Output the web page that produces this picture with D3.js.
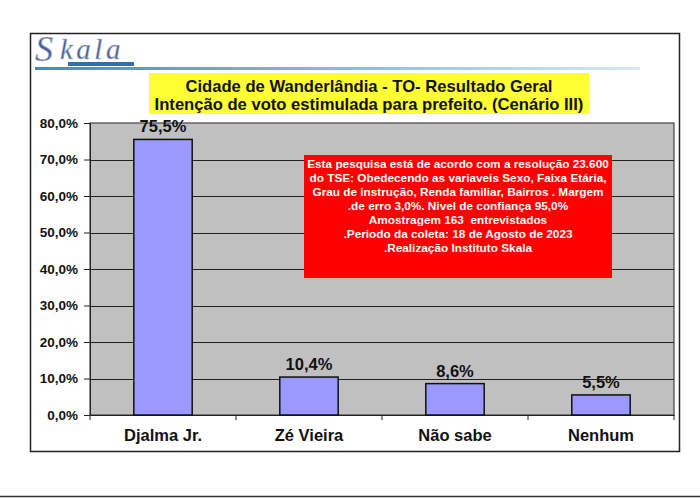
<!DOCTYPE html>
<html>
<head>
<meta charset="utf-8">
<script src="https://cdn.jsdelivr.net/npm/d3@7"></script>
<style>
html,body{margin:0;padding:0;background:#fff;}
svg{display:block;}
text{font-family:"Liberation Sans",Arial,sans-serif;}
</style>
</head>
<body>
<svg id="chart" width="700" height="498"></svg>
<script>
const categories = ["Djalma Jr.", "Zé Vieira", "Não sabe", "Nenhum"];
const values = [75.5, 10.4, 8.6, 5.5];
const yTicks = [0, 10, 20, 30, 40, 50, 60, 70, 80];
const titleLines = ["Cidade de Wanderlândia - TO- Resultado Geral", "Intenção de voto estimulada para prefeito. (Cenário III)"];
const noteLines = [
  "Esta pesquisa está de acordo com a resolução 23.600",
  "do TSE: Obedecendo as variaveis Sexo, Faixa Etária,",
  "Grau de instrução, Renda familiar, Bairros . Margem",
  ".de erro 3,0%. Nivel de confiança 95,0%",
  "Amostragem 163  entrevistados",
  ".Periodo da coleta: 18 de Agosto de 2023",
  ".Realização Instituto Skala"
];

const svg = d3.select("#chart");
const fmt = v => d3.format(".1f")(v).replace(".", ",") + "%";

// outer frame
svg.append("rect").attr("x", 30.5).attr("y", 33.5).attr("width", 649).attr("height", 418)
  .attr("fill", "#fff").attr("stroke", "#222").attr("stroke-width", 1.5);
// bottom page line
svg.append("line").attr("x1", 0).attr("x2", 700).attr("y1", 496.5).attr("y2", 496.5)
  .attr("stroke", "#333").attr("stroke-width", 1.5);

// logo
const grad = svg.append("defs").append("linearGradient").attr("id", "lg");
grad.append("stop").attr("offset", "0%").attr("stop-color", "#3a8fc8");
grad.append("stop").attr("offset", "100%").attr("stop-color", "#d4e9f6");
svg.append("rect").attr("x", 35).attr("y", 67).attr("width", 605).attr("height", 3).attr("fill", "url(#lg)");
svg.append("text").attr("x", 35).attr("y", 61)
  .attr("font-style", "italic").attr("font-size", 36).attr("fill", "#4f5d8e")
  .attr("stroke", "#b8c4e4").attr("stroke-width", 0.7)
  .style("font-family", "'Liberation Serif',serif").text("S");
svg.append("text").attr("x", 60).attr("y", 59)
  .attr("font-style", "italic").attr("font-size", 29).attr("fill", "#4f5d8e")
  .attr("stroke", "#b8c4e4").attr("stroke-width", 0.5)
  .style("font-family", "'Liberation Serif',serif").attr("letter-spacing", 3.5).text("kala");
svg.append("rect").attr("x", 68).attr("y", 62).attr("width", 66).attr("height", 4).attr("fill", "#2f6fb0");

// title box
svg.append("rect").attr("x", 149).attr("y", 73).attr("width", 440).attr("height", 41).attr("fill", "#ffff33");
svg.append("g").selectAll("text").data(titleLines).join("text")
  .attr("x", 369).attr("y", (d, i) => 92 + i * 18).attr("text-anchor", "middle")
  .attr("font-size", 16.6).attr("font-weight", "bold").attr("fill", "#111").text(d => d);

// plot
const m = {l: 90, r: 674, t: 123, b: 415};
const x = d3.scaleBand().domain(categories).range([m.l, m.r]).paddingInner(0.6).paddingOuter(0.3);
const xb = d3.scaleBand().domain(categories).range([m.l, m.r]);
const y = d3.scaleLinear().domain([0, 80]).range([m.b, m.t]);

svg.append("rect").attr("x", m.l).attr("y", m.t).attr("width", m.r - m.l).attr("height", m.b - m.t)
  .attr("fill", "#c0c0c0").attr("stroke", "#444").attr("stroke-width", 1.2);

// gridlines
svg.append("g").selectAll("line").data(yTicks.filter(d => d > 0 && d < 80)).join("line")
  .attr("x1", m.l).attr("x2", m.r).attr("y1", d => Math.round(y(d)) + 0.5).attr("y2", d => Math.round(y(d)) + 0.5)
  .attr("stroke", "#222").attr("stroke-width", 1);

// y axis
const yAxis = svg.append("g").attr("transform", `translate(${m.l},0)`)
  .call(d3.axisLeft(y).tickValues(yTicks).tickSize(6).tickPadding(6).tickFormat(fmt));
yAxis.select(".domain").attr("stroke", "#222");
yAxis.selectAll(".tick line").attr("stroke", "#222");
yAxis.selectAll("text").attr("font-size", 13.5).attr("font-weight", "bold").attr("fill", "#111")
  .style("font-family", "'Liberation Sans',Arial,sans-serif");

// x axis
const xAxis = svg.append("g").attr("transform", `translate(0,${m.b})`)
  .call(d3.axisBottom(xb).tickSize(0).tickPadding(14));
xAxis.select(".domain").attr("stroke", "#222").attr("stroke-width", 1.2);
xAxis.selectAll("text").attr("font-size", 16.5).attr("font-weight", "bold").attr("fill", "#111")
  .style("font-family", "'Liberation Sans',Arial,sans-serif");
svg.append("g").selectAll("line").data(categories.concat(["_end"])).join("line")
  .attr("x1", (d, i) => i < categories.length ? xb(d) : m.r)
  .attr("x2", (d, i) => i < categories.length ? xb(d) : m.r)
  .attr("y1", m.b).attr("y2", m.b + 5).attr("stroke", "#222");

// bars
svg.append("g").selectAll("rect").data(values).join("rect")
  .attr("x", (d, i) => x(categories[i])).attr("width", x.bandwidth())
  .attr("y", d => y(d)).attr("height", d => y(0) - y(d))
  .attr("fill", "#9999ff").attr("stroke", "#111").attr("stroke-width", 1.5);

// value labels
svg.append("g").selectAll("text").data(values).join("text")
  .attr("x", (d, i) => x(categories[i]) + x.bandwidth() / 2).attr("y", d => y(d) - 7)
  .attr("text-anchor", "middle").attr("font-size", 16.5).attr("font-weight", "bold").attr("fill", "#111")
  .text(fmt);

// note box
svg.append("rect").attr("x", 304).attr("y", 155).attr("width", 308).attr("height", 123).attr("fill", "#ff0000");
svg.append("g").selectAll("text").data(noteLines).join("text")
  .attr("x", 458).attr("y", (d, i) => 168 + i * 14).attr("text-anchor", "middle")
  .style("white-space", "pre")
  .attr("font-size", 11.8).attr("font-weight", "bold").attr("fill", "#fff").text(d => d);
</script>
</body>
</html>
